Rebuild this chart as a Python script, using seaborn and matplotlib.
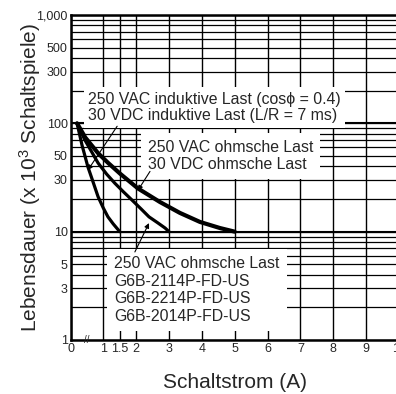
import matplotlib
matplotlib.use("Agg")
import matplotlib.pyplot as plt
import seaborn as sns
import pandas as pd
from matplotlib.ticker import LogLocator, NullFormatter

# Curve readings: Schaltstrom (A) vs. Lebensdauer (x 10^3 Schaltspiele)
ohm_x = [0.2, 0.45, 0.84, 1.15, 1.51, 2.05, 2.72, 3.33, 3.94, 4.55, 5.0]
ohm_y = [100, 74, 53, 43, 34.3, 25.1, 18.8, 14.9, 12.3, 10.8, 10]
g6b_x = [0.2, 0.44, 0.84, 1.1, 1.35, 1.6, 1.87, 2.15, 2.39, 2.65, 2.88, 3.0]
g6b_y = [100, 70, 43, 34, 28, 23.5, 19.6, 16.2, 13.7, 12.1, 10.8, 10]
ind_x = [0.2, 0.35, 0.53, 0.7, 0.84, 1.0, 1.14, 1.3, 1.5]
ind_y = [100, 63, 39.6, 28, 21, 16.5, 13.7, 11.8, 10]

x_ticks = [0, 1, 1.5, 2, 3, 4, 5, 6, 7, 8, 9, 10]
x_labels = ["0", "1", "1.5", "2", "3", "4", "5", "6", "7", "8", "9", "10"]
y_ticks = [1, 3, 5, 10, 30, 50, 100, 300, 500, 1000]
y_labels = ["1", "3", "5", "10", "30", "50", "100", "300", "500", "1,000"]

sns.set_style("white")
plt.rcParams["font.family"] = ["Liberation Sans", "DejaVu Sans"]
plt.rcParams["mathtext.fontset"] = "custom"
plt.rcParams["mathtext.rm"] = "Liberation Sans"
plt.rcParams["mathtext.it"] = "Liberation Sans"

fig = plt.figure(figsize=(3.96, 3.94), dpi=100)
ax = fig.add_axes([70.5 / 396, 54 / 394, 328.5 / 396, 325 / 394])

# curves
df_ohm = pd.DataFrame({"x": ohm_x, "y": ohm_y})
df_g6b = pd.DataFrame({"x": g6b_x, "y": g6b_y})
df_ind = pd.DataFrame({"x": ind_x, "y": ind_y})
sns.lineplot(data=df_ohm, x="x", y="y", ax=ax, color="black", lw=3.0, zorder=5,
             solid_capstyle="round", solid_joinstyle="round")
sns.lineplot(data=df_g6b, x="x", y="y", ax=ax, color="black", lw=2.3, zorder=5,
             solid_capstyle="round", solid_joinstyle="round")
sns.lineplot(data=df_ind, x="x", y="y", ax=ax, color="black", lw=2.3, zorder=5,
             solid_capstyle="round", solid_joinstyle="round")

ax.set_yscale("log")
ax.set_xlim(0, 10)
ax.set_ylim(1, 1000)

ax.set_xticks(x_ticks)
ax.set_xticklabels(x_labels)
ax.set_yticks(y_ticks)
ax.set_yticklabels(y_labels)
ax.yaxis.set_minor_locator(LogLocator(base=10, subs=range(2, 10)))
ax.yaxis.set_minor_formatter(NullFormatter())
ax.tick_params(axis="both", which="both", length=0, labelsize=9, pad=2)

# grid
ax.set_axisbelow(True)
ax.grid(True, axis="x", which="major", color="black", lw=1.0)
ax.grid(True, axis="y", which="both", color="black", lw=0.9)
for d in [10, 100]:
    ax.axhline(d, color="black", lw=1.5, zorder=1)

for side in ["left", "bottom", "top"]:
    ax.spines[side].set_linewidth(1.8)
    ax.spines[side].set_color("black")

ax.set_xlabel("Schaltstrom (A)", fontsize=15, labelpad=13)
ax.set_ylabel("Lebensdauer (x 10$^3$ Schaltspiele)", fontsize=15, labelpad=-5)

ax.text(0.53, 140, "250 VAC induktive Last (cos\u03d5 = 0.4)\n30 VDC induktive Last (L/R = 7 ms)",
        fontsize=11.4, ha="left", va="center", linespacing=1.15,
        bbox=dict(facecolor="white", edgecolor="none", pad=3), zorder=3)
ax.text(2.36, 50, "250 VAC ohmsche Last\n30 VDC ohmsche Last",
        fontsize=11.4, ha="left", va="center", linespacing=1.15,
        bbox=dict(facecolor="white", edgecolor="none", pad=5), zorder=3)
ax.text(1.33, 2.9, "250 VAC ohmsche Last\nG6B-2114P-FD-US\nG6B-2214P-FD-US\nG6B-2014P-FD-US",
        fontsize=11.4, ha="left", va="center", linespacing=1.22,
        bbox=dict(facecolor="white", edgecolor="none", pad=5), zorder=3)

arrow = dict(arrowstyle="-|>", color="black", lw=0.8, mutation_scale=7, shrinkA=0, shrinkB=0)
ax.annotate("", xy=(0.53, 37), xytext=(1.42, 94), arrowprops=arrow, zorder=4)
ax.annotate("", xy=(2.05, 24), xytext=(2.42, 36), arrowprops=arrow, zorder=4)
ax.annotate("", xy=(2.39, 12.0), xytext=(1.96, 6.5), arrowprops=arrow, zorder=4)

# axis break mark
ax.text(0.5, 1, "//", fontsize=7, ha="center", va="center", clip_on=False, zorder=6)

fig.savefig("out.png", dpi=100)
